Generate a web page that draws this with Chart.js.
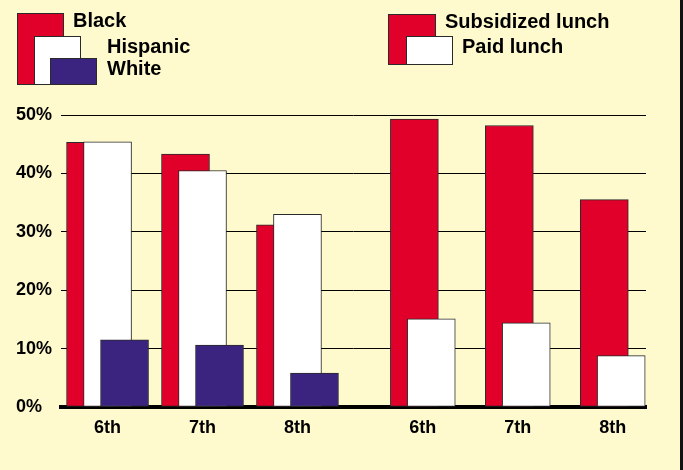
<!DOCTYPE html>
<html>
<head>
<meta charset="utf-8">
<script src="https://cdn.jsdelivr.net/npm/chart.js@4.4.1/dist/chart.umd.min.js"></script>
<style>
  html, body { margin: 0; padding: 0; background: #FFFACD; }
  #wrap { position: relative; width: 683px; height: 470px; }
</style>
</head>
<body>
<div id="wrap"><canvas id="gradeChart" width="683" height="470"></canvas></div>
<script>
// grades, shown twice: once by race, once by lunch status
const grades = ['6th', '7th', '8th'];
const yTicks = [0, 10, 20, 30, 40, 50];

// percentages
const black = [45.3, 43.3, 31.2];
const hispanic = [45.4, 40.5, 33.0];
const white = [11.5, 10.6, 5.8];
const subsidized = [49.3, 48.2, 35.5];
const paid = [15.1, 14.4, 8.8];

const RED = '#E0002A';
const BLUE = '#3A2480';
const EDGE = '#2a2a2a';

// cluster centres on the linear x scale
const RIGHT_START = 3.32;
const leftOff = [-0.179, 0, 0.179];
const rightOff = [-0.089, 0.089];

function pts(values, base, off) {
    return values.map((v, i) => ({ x: base + i + off, y: v }));
}

const clusterCentres = grades.map((g, i) => i).concat(grades.map((g, i) => RIGHT_START + i));

function bar(label, values, base, off, color, order) {
    return {
        label: label,
        data: pts(values, base, off),
        backgroundColor: color,
        borderColor: EDGE,
        borderWidth: 1,
        borderSkipped: false,
        barThickness: 48,
        grouped: false,
        order: order
    };
}

// legend with the overlapping boxes, drawn on the canvas
const boxLegend = {
    id: 'boxLegend',
    afterDraw(chart) {
        const ctx = chart.ctx;
        const ds = chart.data.datasets;
        const box = (x, y, w, h, color) => {
            ctx.fillStyle = color;
            ctx.fillRect(x, y, w, h);
            ctx.strokeStyle = EDGE;
            ctx.lineWidth = 1;
            ctx.strokeRect(x + 0.5, y + 0.5, w - 1, h - 1);
        };
        box(17, 13, 47, 72, ds[0].backgroundColor);
        box(34, 36, 47, 49, ds[1].backgroundColor);
        box(50, 58, 47, 27, ds[2].backgroundColor);
        box(388, 14, 48, 51, ds[3].backgroundColor);
        box(406, 36, 47, 29, ds[4].backgroundColor);

        ctx.fillStyle = '#000';
        ctx.font = 'bold 20px "Liberation Sans", Arial, sans-serif';
        ctx.textAlign = 'left';
        ctx.textBaseline = 'alphabetic';
        ctx.fillText(ds[0].label, 73, 27);
        ctx.fillText(ds[1].label, 107, 53);
        ctx.fillText(ds[2].label, 107, 75);
        ctx.fillText(ds[3].label, 445, 28);
        ctx.fillText(ds[4].label, 462, 53);

        // dark frame line on the right edge
        ctx.fillStyle = '#111';
        ctx.fillRect(680, 0, 3, chart.height);
    }
};

const ctx = document.getElementById('gradeChart').getContext('2d');
const chart = new Chart(ctx, {
    type: 'bar',
    data: {
        datasets: [
            bar('Black', black, 0, leftOff[0], RED, 3),
            bar('Hispanic', hispanic, 0, leftOff[1], '#FFFFFF', 2),
            bar('White', white, 0, leftOff[2], BLUE, 1),
            bar('Subsidized lunch', subsidized, RIGHT_START, rightOff[0], RED, 3),
            bar('Paid lunch', paid, RIGHT_START, rightOff[1], '#FFFFFF', 2)
        ]
    },
    options: {
        responsive: false,
        animation: false,
        layout: { padding: { left: 16, top: 115, right: 37, bottom: 0 } },
        plugins: {
            legend: { display: false },
            tooltip: { enabled: false }
        },
        scales: {
            x: {
                type: 'linear',
                offset: false,
                min: -0.49,
                max: 5.67,
                afterBuildTicks: scale => {
                    scale.ticks = clusterCentres.map(v => ({ value: v }));
                },
                afterFit: scale => { scale.height = 63; },
                grid: { display: false, drawTicks: false },
                border: { display: true, color: '#000', width: 4 },
                ticks: {
                    padding: 10,
                    color: '#000',
                    font: { family: '"Liberation Sans", Arial, sans-serif', size: 18, weight: 'bold' },
                    callback: (v, i) => grades[i % grades.length]
                }
            },
            y: {
                min: 0,
                max: 50,
                afterBuildTicks: scale => {
                    scale.ticks = yTicks.map(v => ({ value: v }));
                },
                afterFit: scale => { scale.width = 45; },
                grid: { color: '#000', lineWidth: 1, drawTicks: false },
                border: { display: false },
                ticks: {
                    crossAlign: 'far',
                    color: '#000',
                    font: { family: '"Liberation Sans", Arial, sans-serif', size: 18, weight: 'bold' },
                    callback: v => v + '%'
                }
            }
        }
    },
    plugins: [boxLegend]
});
</script>
</body>
</html>
